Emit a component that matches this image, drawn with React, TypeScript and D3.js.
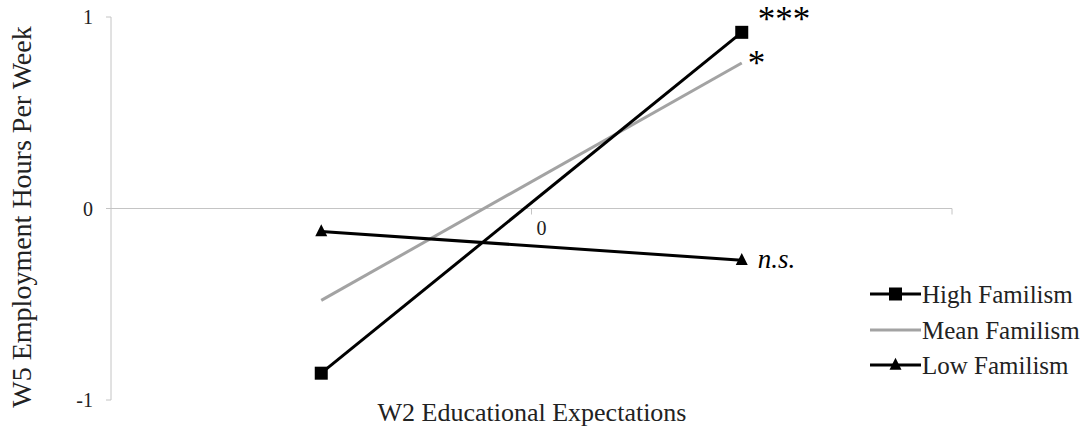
import React from "react";
import * as d3 from "d3";

const xPoints = [-0.5, 0.5];
const highValues = [-0.86, 0.92];
const meanValues = [-0.48, 0.76];
const lowValues = [-0.12, -0.27];
const yTicks = [-1, 0, 1];
const xTicks = [0, 1];
const xTickLabels = ["0"];
const seriesNames = ["High Familism", "Mean Familism", "Low Familism"];
const sigLabels = ["***", "*", "n.s."];

const FONT = "Liberation Serif, Times New Roman, serif";

export default function App() {
  const W = 1083, H = 432;
  const x = d3.scaleLinear().domain([-1, 1]).range([111, 952]);
  const y = d3.scaleLinear().domain([-1, 1]).range([400, 17]);
  const line = d3.line<[number, number]>().x(d => x(d[0])).y(d => y(d[1]));
  const mk = (vals: number[]) => xPoints.map((xv, i) => [xv, vals[i]] as [number, number]);
  const high = mk(highValues), mean = mk(meanValues), low = mk(lowValues);
  const axisColor = "#c4c4c4";
  const gray = "#a3a3a3";
  const sq = 13;
  const tri = (cx: number, cy: number, s = 12) =>
    `M${cx},${cy - s * 0.6}L${cx + s / 2},${cy + s * 0.4}L${cx - s / 2},${cy + s * 0.4}Z`;
  const legendY = [294, 330, 365];
  const lx0 = 870, lx1 = 921;
  const ts = { fontFamily: FONT };

  return (
    <svg width={W} height={H} style={{ position: "absolute", left: 0, top: 0, background: "#fff", fontFamily: FONT }}>
      {/* y axis */}
      <line x1={x(-1)} x2={x(-1)} y1={y(-1)} y2={y(1)} stroke={axisColor} strokeWidth={1} />
      {yTicks.map(t => (
        <g key={t}>
          <line x1={x(-1) - 5} x2={x(-1)} y1={y(t)} y2={y(t)} stroke={axisColor} />
          <text x={93} y={y(t)} dy="0.35em" textAnchor="end" fontSize={20} fill="#222" style={ts}>{t}</text>
        </g>
      ))}
      {/* x axis */}
      <line x1={x(-1)} x2={x(1)} y1={y(0)} y2={y(0)} stroke={axisColor} strokeWidth={1} />
      {xTicks.map(t => (
        <line key={t} x1={x(t)} x2={x(t)} y1={y(0)} y2={y(0) + 6} stroke={axisColor} />
      ))}
      <text x={x(0) + 10} y={y(0) + 19} dy="0.35em" textAnchor="middle" fontSize={20} fill="#222" style={ts}>{xTickLabels[0]}</text>

      {/* series */}
      <path d={line(mean) || ""} fill="none" stroke={gray} strokeWidth={3} />
      <path d={line(low) || ""} fill="none" stroke="#000" strokeWidth={3} />
      <path d={line(high) || ""} fill="none" stroke="#000" strokeWidth={3} />
      {high.map((d, i) => (
        <rect key={i} x={x(d[0]) - sq / 2} y={y(d[1]) - sq / 2} width={sq} height={sq} fill="#000" />
      ))}
      {low.map((d, i) => (
        <path key={i} d={tri(x(d[0]), y(d[1]))} fill="#000" />
      ))}

      {/* significance labels */}
      <text x={x(0.5) + 16} y={y(highValues[1]) - 1} fontSize={35} fill="#000" style={ts}>{sigLabels[0]}</text>
      <text x={x(0.5) + 6} y={y(meanValues[1]) + 12} fontSize={35} fill="#000" style={ts}>{sigLabels[1]}</text>
      <text x={x(0.5) + 16} y={y(lowValues[1]) + 8} fontSize={27} fontStyle="italic" fill="#000" style={ts}>{sigLabels[2]}</text>

      {/* axis titles */}
      <text x={532} y={412} dy="0.35em" textAnchor="middle" fontSize={26} fill="#222" style={ts}>W2 Educational Expectations</text>
      <text transform={`translate(21,${217}) rotate(-90)`} dy="0.35em" textAnchor="middle" fontSize={28} fill="#222" style={ts}>W5 Employment Hours Per Week</text>

      {/* legend */}
      {seriesNames.map((name, i) => (
        <g key={name}>
          <line x1={lx0} x2={lx1} y1={legendY[i]} y2={legendY[i]} stroke={i === 1 ? gray : "#000"} strokeWidth={3} />
          {i === 0 && <rect x={(lx0 + lx1) / 2 - 6.5} y={legendY[i] - 6.5} width={13} height={13} fill="#000" />}
          {i === 2 && <path d={tri((lx0 + lx1) / 2, legendY[i], 12)} fill="#000" />}
          <text x={lx1 + 1} y={legendY[i]} dy="0.35em" fontSize={25} fill="#222" style={ts}>{name}</text>
        </g>
      ))}
    </svg>
  );
}
